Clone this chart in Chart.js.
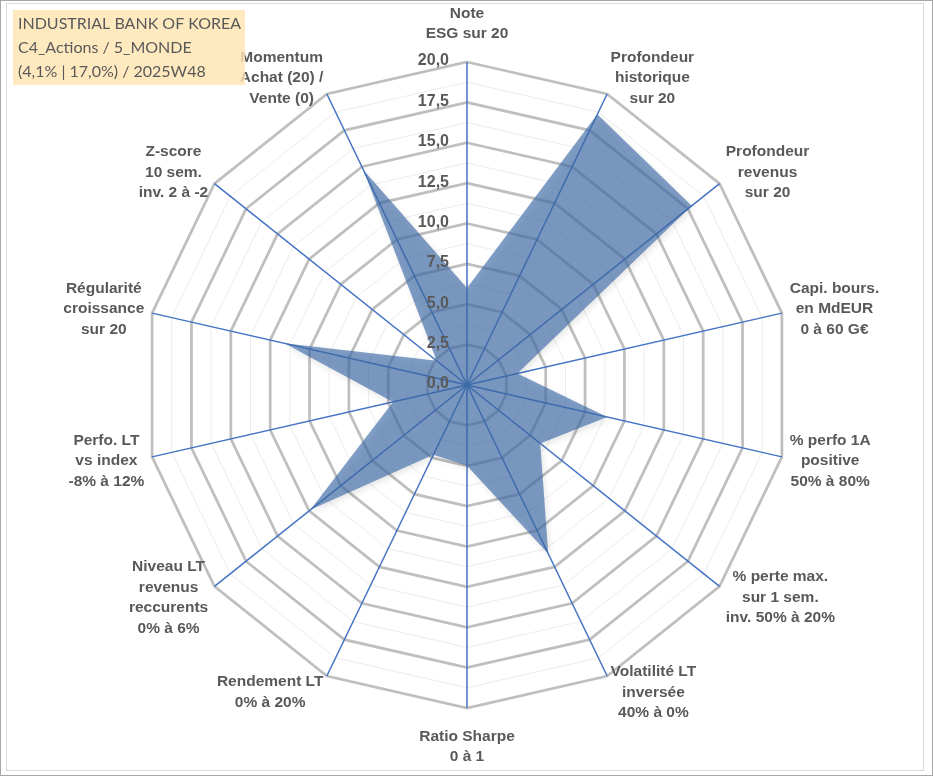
<!DOCTYPE html>
<html>
<head>
<meta charset="utf-8">
<script src="https://cdn.jsdelivr.net/npm/chart.js@4/dist/chart.umd.min.js"></script>
<style>
  html, body { margin: 0; padding: 0; background: #fff; }
  #radar { display: block; }
</style>
</head>
<body>
<canvas id="radar" width="933" height="776"></canvas>
<script>
// Axes du radar (sens horaire depuis le haut)
const axisLabels = [
  ['Note', 'ESG sur 20'],
  ['Profondeur', 'historique', 'sur 20'],
  ['Profondeur', 'revenus', 'sur 20'],
  ['Capi. bours.', 'en MdEUR', '0 à 60 G€'],
  ['% perfo 1A', 'positive', '50% à 80%'],
  ['% perte max.', 'sur 1 sem.', 'inv. 50% à 20%'],
  ['Volatilité LT', 'inversée', '40% à 0%'],
  ['Ratio Sharpe', '0 à 1'],
  ['Rendement LT', '0% à 20%'],
  ['Niveau LT', 'revenus', 'reccurents', '0% à 6%'],
  ['Perfo. LT', 'vs index', '-8% à 12%'],
  ['Régularité', 'croissance', 'sur 20'],
  ['Z-score', '10 sem.', 'inv. 2 à -2'],
  ['Momentum', 'Achat (20) /', 'Vente (0)']
];

// Notes sur 20
const scoreValues = [6.0, 18.6, 17.8, 3.2, 8.9, 5.8, 11.6, 5.0, 4.8, 12.4, 4.7, 11.6, 2.4, 14.8];

const tickValues = [0, 2.5, 5, 7.5, 10, 12.5, 15, 17.5, 20];

const titleLines = ['INDUSTRIAL BANK OF KOREA', 'C4_Actions / 5_MONDE', '(4,1% | 17,0%) / 2025W48'];

const TEXTE = '#595959';
const FONT_LABEL = 'bold 15.5px "Liberation Sans", Arial, sans-serif';
const FONT_TICK = 'bold 16px "Liberation Sans", Arial, sans-serif';

function formatTick(v) {
  return v.toFixed(1).replace('.', ',');
}

const habillage = {
  id: 'habillage',
  beforeDraw(chart) {
    const ctx = chart.ctx;
    ctx.save();
    ctx.fillStyle = '#fff';
    ctx.fillRect(0, 0, chart.width, chart.height);
    ctx.lineWidth = 1;
    ctx.strokeStyle = '#a6a6a6';
    ctx.strokeRect(0.5, 0.5, chart.width - 1, chart.height - 1);
    ctx.strokeStyle = '#d9d9d9';
    ctx.strokeRect(6.5, 3.5, 917, 767);
    ctx.restore();
  },
  beforeDatasetsDraw(chart) {
    const ctx = chart.ctx;
    ctx.save();
    ctx.shadowColor = 'rgba(0,0,0,0.14)';
    ctx.shadowBlur = 6;
    ctx.shadowOffsetX = 2;
    ctx.shadowOffsetY = 3;
  },
  afterDatasetsDraw(chart) {
    const ctx = chart.ctx;
    ctx.restore();
    const r = chart.scales.r;

    // graduations 0,0 ... 20,0 à gauche de l'axe vertical
    ctx.save();
    ctx.font = FONT_TICK;
    ctx.fillStyle = TEXTE;
    ctx.textAlign = 'right';
    ctx.textBaseline = 'middle';
    tickValues.forEach(v => {
      const d = r.getDistanceFromCenterForValue(v);
      ctx.fillText(formatTick(v), r.xCenter - 18, r.yCenter - d - 1);
    });
    ctx.restore();

    // libellés des axes, placés à l'extérieur de chaque rayon
    ctx.save();
    ctx.font = FONT_LABEL;
    ctx.fillStyle = TEXTE;
    ctx.textAlign = 'center';
    ctx.textBaseline = 'middle';
    const lh = 20.5;
    axisLabels.forEach((lines, i) => {
      const p = r.getPointPosition(i, r.drawingArea + 8);
      const cx0 = Math.cos(p.angle), sy0 = Math.sin(p.angle);
      const w = Math.max(...lines.map(t => ctx.measureText(t).width));
      const h = lines.length * lh;
      let sgn = 0;
      if (Math.abs(cx0) > 0.01) sgn = Math.sign(cx0);
      const cx = p.x + sgn * w / 2;
      let cy = p.y + sy0 * 10;
      if (sgn === 0) cy += sy0 * h / 2;
      lines.forEach((t, k) => {
        ctx.fillText(t, cx, cy + (k - (lines.length - 1) / 2) * lh);
      });
    });
    ctx.restore();

    // cartouche du titre
    ctx.save();
    ctx.fillStyle = 'rgba(255,229,178,0.82)';
    ctx.fillRect(13, 10, 232, 75);
    ctx.font = '16px Lato, "Open Sans", sans-serif';
    ctx.fillStyle = TEXTE;
    ctx.textAlign = 'left';
    ctx.textBaseline = 'middle';
    titleLines.forEach((t, k) => ctx.fillText(t, 18, 24 + k * 24));
    ctx.restore();
  }
};

new Chart(document.getElementById('radar'), {
  type: 'radar',
  data: {
    labels: axisLabels,
    datasets: [{
      data: scoreValues,
      backgroundColor: 'rgba(62,108,168,0.66)',
      borderWidth: 0,
      pointRadius: 0,
      fill: true
    }]
  },
  options: {
    responsive: false,
    animation: false,
    layout: { padding: { top: 62, bottom: 68, left: 60, right: 59 } },
    plugins: { legend: { display: false }, tooltip: { enabled: false } },
    scales: {
      r: {
        min: 0,
        max: 20,
        ticks: { display: false, stepSize: 1.25 },
        pointLabels: { display: false },
        grid: {
          color: c => (c.index % 2 === 0 ? '#bfbfbf' : '#ececec'),
          lineWidth: c => (c.index % 2 === 0 ? 2.75 : 1)
        },
        angleLines: { color: '#4472c4', lineWidth: 1.5 }
      }
    }
  },
  plugins: [habillage]
});
</script>
</body>
</html>
